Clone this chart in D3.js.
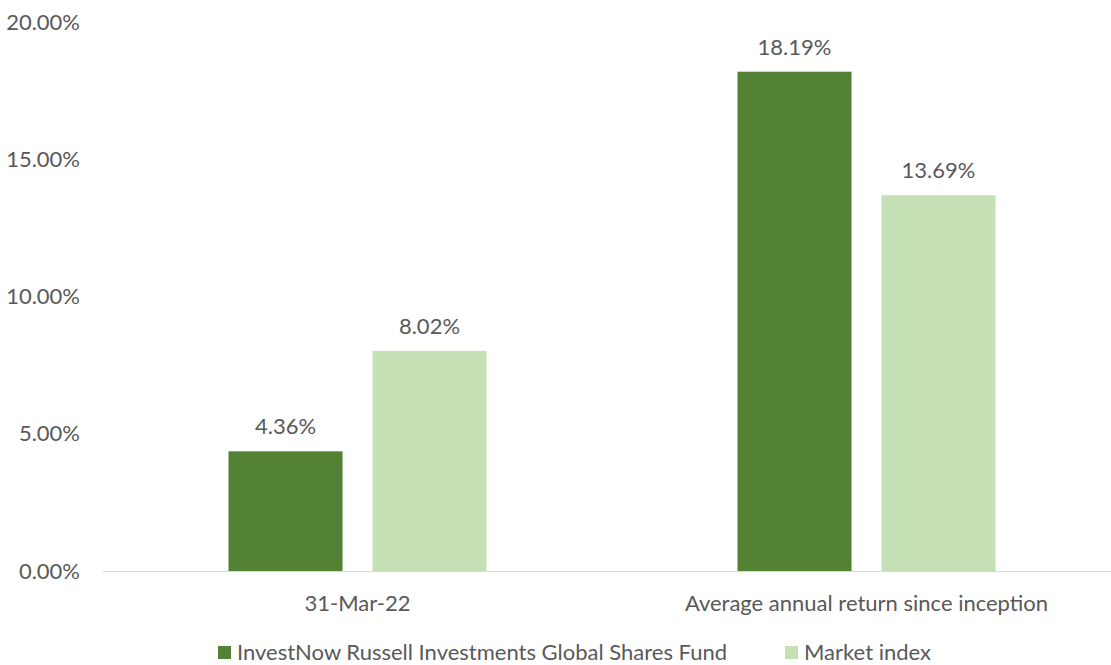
<!DOCTYPE html>
<html>
<head>
<meta charset="utf-8">
<script src="https://cdn.jsdelivr.net/npm/d3@7"></script>
<style>
  body { margin: 0; background: #fff; }
  svg text { font-family: Lato, "Open Sans", sans-serif; fill: #595959; }
</style>
</head>
<body>
<svg id="chart" width="1111" height="665"></svg>
<script>
const categories = ['31-Mar-22', 'Average annual return since inception'];
const seriesNames = ['InvestNow Russell Investments Global Shares Fund', 'Market index'];
const fundValues = [4.36, 18.19];
const indexValues = [8.02, 13.69];
const yTicks = [0, 5, 10, 15, 20];
const colors = ['#548235', '#C5E0B4'];

const svg = d3.select('#chart');
const fontSize = 22;

const x0 = d3.scaleBand().domain(categories).range([103, 1121]);
const groupW = 258;
const x1 = d3.scaleBand().domain(seriesNames)
  .range([(x0.bandwidth() - groupW) / 2, (x0.bandwidth() + groupW) / 2])
  .paddingInner(0.208);
const y = d3.scaleLinear().domain([0, 20]).range([571, 22]);

// y tick labels
svg.append('g').selectAll('text')
  .data(yTicks)
  .join('text')
  .attr('x', 80)
  .attr('y', d => y(d))
  .attr('dy', '0.35em')
  .attr('text-anchor', 'end')
  .attr('font-size', fontSize)
  .text(d => d.toFixed(2) + '%');

const rows = categories.map((c, i) => ({ cat: c, vals: [fundValues[i], indexValues[i]] }));

const groups = svg.append('g').selectAll('g')
  .data(rows)
  .join('g')
  .attr('transform', d => `translate(${x0(d.cat)},0)`);

groups.selectAll('rect')
  .data(d => d.vals.map((v, j) => ({ key: seriesNames[j], v, j })))
  .join('rect')
  .attr('x', d => x1(d.key))
  .attr('width', x1.bandwidth())
  .attr('y', d => y(d.v))
  .attr('height', d => y(0) - y(d.v))
  .attr('fill', d => colors[d.j]);

groups.selectAll('text.lbl')
  .data(d => d.vals.map((v, j) => ({ key: seriesNames[j], v, j })))
  .join('text')
  .attr('class', 'lbl')
  .attr('x', d => x1(d.key) + x1.bandwidth() / 2)
  .attr('y', d => y(d.v) - 17)
  .attr('text-anchor', 'middle')
  .attr('font-size', fontSize)
  .text(d => d.v.toFixed(2) + '%');

// x axis line
svg.append('line')
  .attr('x1', 103).attr('x2', 1111)
  .attr('y1', y(0) + 0.5).attr('y2', y(0) + 0.5)
  .attr('stroke', '#d9d9d9').attr('stroke-width', 1);

// category labels
svg.append('g').selectAll('text')
  .data(categories)
  .join('text')
  .attr('x', d => x0(d) + x0.bandwidth() / 2)
  .attr('y', 603)
  .attr('dy', '0.35em')
  .attr('text-anchor', 'middle')
  .attr('font-size', fontSize)
  .text(d => d);

// legend
const legendX = [218, 785];
const legend = svg.append('g').selectAll('g')
  .data(seriesNames)
  .join('g')
  .attr('transform', (d, i) => `translate(${legendX[i]},646)`);
legend.append('rect').attr('width', 13).attr('height', 13).attr('fill', (d, i) => colors[i]);
legend.append('text')
  .attr('x', 19).attr('y', 6.5).attr('dy', '0.35em')
  .attr('font-size', fontSize)
  .text(d => d);
</script>
</body>
</html>
